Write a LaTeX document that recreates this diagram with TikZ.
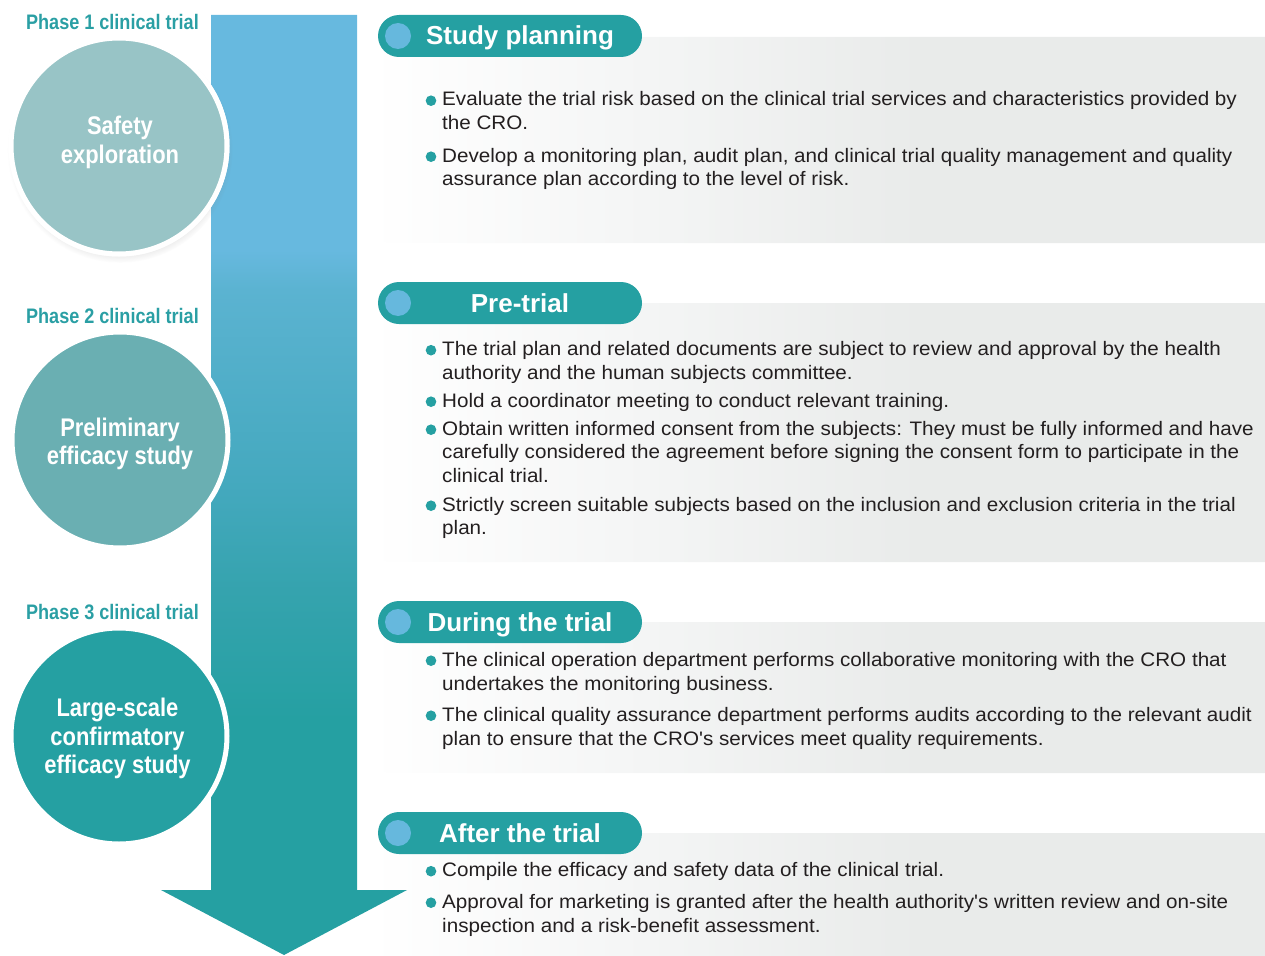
\documentclass[tikz,border=0pt]{standalone}
\usepackage{fontspec}
\setmainfont{Liberation Sans}
\newfontfamily\condfont[FakeStretch=0.86]{Liberation Sans}
\newfontfamily\bodyfont[FakeStretch=1.058]{Liberation Sans}
\usetikzlibrary{shadows}

\definecolor{tealmain}{HTML}{25A0A2}
\definecolor{tealtext}{HTML}{2A9FA4}
\definecolor{skyblue}{HTML}{66B8DD}
\definecolor{arrowtop}{HTML}{67B9DF}
\definecolor{arrowmidA}{HTML}{5BB3D1}
\definecolor{arrowmidB}{HTML}{45A9BF}
\definecolor{arrowmidC}{HTML}{35A3AE}
\definecolor{arrowbot}{HTML}{25A0A2}
\definecolor{panelmid}{HTML}{F4F5F5}
\definecolor{panelright}{HTML}{E9EBEA}
\definecolor{circA}{HTML}{98C4C6}
\definecolor{circB}{HTML}{6AAFB2}
\definecolor{circC}{HTML}{25A0A2}
\definecolor{textdark}{HTML}{231F20}

% shadings: the band 25bp..75bp is stretched over the shaded path
\pgfdeclareverticalshading{arrowshade}{100bp}{color(0bp)=(arrowbot); color(37.5bp)=(arrowbot); color(44.4bp)=(arrowmidC); color(50.3bp)=(arrowmidB); color(60.4bp)=(arrowmidA); color(62.5bp)=(arrowtop); color(100bp)=(arrowtop)}
\pgfdeclarehorizontalshading{panelshade}{100bp}{color(0bp)=(white); color(25bp)=(white); color(40bp)=(panelmid); color(55bp)=(panelright); color(100bp)=(panelright)}

\tikzset{
  bodytxt/.style={anchor=base west, inner sep=0pt, text=textdark,
    font=\bodyfont\fontsize{19.5}{23.5}\selectfont},
  bulletdot/.style={circle, fill=tealmain, minimum size=10.6, inner sep=0pt},
  pill/.style={rectangle, rounded corners=21, fill=tealmain,
    minimum width=264, minimum height=42, inner sep=0pt},
  pilldot/.style={circle, fill=skyblue, minimum size=26, inner sep=0pt},
  pilltitle/.style={anchor=base, inner sep=0pt, text=white,
    font=\fontsize{26}{30}\selectfont\bfseries},
  phaselabel/.style={anchor=base east, inner sep=0pt, text=tealtext,
    font=\condfont\fontsize{21}{24}\selectfont\bfseries},
  phasecircle/.style={draw=white, line width=5},
  circtxt/.style={anchor=base, inner sep=0pt, text=white,
    font=\condfont\fontsize{25.5}{29}\selectfont\bfseries},
  panel/.style={shading=panelshade, rounded corners=20},
}

\begin{document}
\begin{tikzpicture}[x=1pt,y=-1pt]
\useasboundingbox (0,0) rectangle (1265,955);
\clip (0,0) rectangle (1265,955);

% text panels
\shade[panel] (370,37) rectangle (1290,243);
\shade[panel] (370,303) rectangle (1290,562);
\shade[panel] (370,622) rectangle (1290,773);
\shade[panel] (370,833) rectangle (1290,990);

% downward arrow
\shade[shading=arrowshade] (211,15) -- (357,15) -- (357,890) -- (407,890)
  -- (284,955) -- (161,890) -- (211,890) -- cycle;

% phase circles
\fill[white, circular drop shadow={shadow xshift=1pt, shadow yshift=-4pt, opacity=0.3, shadow scale=1.02}]
  (119,146) circle (110.5);
\path[phasecircle, fill=circA] (119,146) circle (108);
\path[phasecircle, fill=circB] (120,440) circle (108);
\path[phasecircle, fill=circC] (119,736) circle (108);

\node (ph1) [phaselabel] at (199,30) {Phase 1 clinical trial};
\node (ph2) [phaselabel] at (199,323) {Phase 2 clinical trial};
\node (ph3) [phaselabel] at (199,619) {Phase 3 clinical trial};

\node (c1a) [circtxt] at (120,135) {Safety};
\node (c1b) [circtxt] at (120,163.5) {exploration};
\node (c2a) [circtxt] at (120,436) {Preliminary};
\node (c2b) [circtxt] at (120,464) {efficacy study};
\node (c3a) [circtxt] at (117.5,716) {Large-scale};
\node (c3b) [circtxt] at (117.5,745) {confirmatory};
\node (c3c) [circtxt] at (117.5,773.5) {efficacy study};

% section headers
\node (h1) [pill] at (510,36) {};
\node (h1d) [pilldot] at (398,36) {};
\node (h1t) [pilltitle] at (520,45) {Study planning};
\node (h2) [pill] at (510,303) {};
\node (h2d) [pilldot] at (398,303) {};
\node (h2t) [pilltitle] at (520,312) {Pre-trial};
\node (h3) [pill] at (510,622) {};
\node (h3d) [pilldot] at (398,622) {};
\node (h3t) [pilltitle] at (520,631) {During the trial};
\node (h4) [pill] at (510,833) {};
\node (h4d) [pilldot] at (398,833) {};
\node (h4t) [pilltitle] at (520,842) {After the trial};

% study planning
\node (b11) [bulletdot] at (431,100.7) {};
\node (t11a) [bodytxt] at (442,106) {Evaluate the trial risk based on the clinical trial services and characteristics provided by};
\node (t11b) [bodytxt] at (442,129.5) {the CRO.};
\node (b12) [bulletdot] at (431,156.7) {};
\node (t12a) [bodytxt] at (442,162) {Develop a monitoring plan, audit plan, and clinical trial quality management and quality};
\node (t12b) [bodytxt] at (442,185.5) {assurance plan according to the level of risk.};

% pre-trial
\node (b21) [bulletdot] at (431,350.2) {};
\node (t21a) [bodytxt] at (442,355.5) {The trial plan and related documents are subject to review and approval by the health};
\node (t21b) [bodytxt] at (442,379.5) {authority and the human subjects committee.};
\node (b22) [bulletdot] at (431,401.7) {};
\node (t22a) [bodytxt] at (442,407) {Hold a coordinator meeting to conduct relevant training.};
\node (b23) [bulletdot] at (431,429.7) {};
\node (t23a) [bodytxt] at (442,435) {Obtain written informed consent from the subjects: They must be fully informed and have};
\node (t23b) [bodytxt] at (442,458.5) {carefully considered the agreement before signing the consent form to participate in the};
\node (t23c) [bodytxt] at (442,482.5) {clinical trial.};
\node (b24) [bulletdot] at (431,505.7) {};
\node (t24a) [bodytxt] at (442,511) {Strictly screen suitable subjects based on the inclusion and exclusion criteria in the trial};
\node (t24b) [bodytxt] at (442,534.5) {plan.};

% during the trial
\node (b31) [bulletdot] at (431,660.7) {};
\node (t31a) [bodytxt] at (442,666) {The clinical operation department performs collaborative monitoring with the CRO that};
\node (t31b) [bodytxt] at (442,690) {undertakes the monitoring business.};
\node (b32) [bulletdot] at (431,715.7) {};
\node (t32a) [bodytxt] at (442,721) {The clinical quality assurance department performs audits according to the relevant audit};
\node (t32b) [bodytxt] at (442,745) {plan to ensure that the CRO's services meet quality requirements.};

% after the trial
\node (b41) [bulletdot] at (431,871.2) {};
\node (t41a) [bodytxt] at (442,876.5) {Compile the efficacy and safety data of the clinical trial.};
\node (b42) [bulletdot] at (431,902.7) {};
\node (t42a) [bodytxt] at (442,908) {Approval for marketing is granted after the health authority's written review and on-site};
\node (t42b) [bodytxt] at (442,932) {inspection and a risk-benefit assessment.};
\end{tikzpicture}
\end{document}
